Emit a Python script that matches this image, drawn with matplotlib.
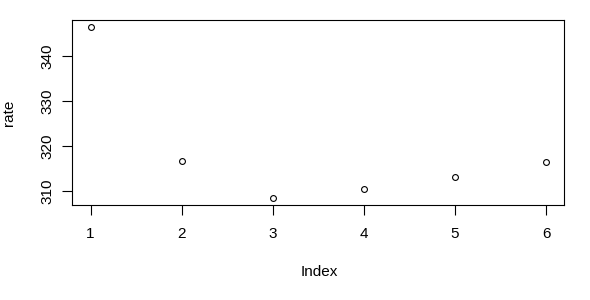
import matplotlib
matplotlib.use("Agg")
import matplotlib.pyplot as plt

index = [1, 2, 3, 4, 5, 6]
rate = [346.4, 316.7, 308.4, 310.4, 313.1, 316.4]
xticks = [1, 2, 3, 4, 5, 6]
yticks = [310, 320, 330, 340]

plt.rcParams['font.family'] = ['Liberation Sans', 'DejaVu Sans']

W, H = 590, 300
fig = plt.figure(figsize=(W / 100, H / 100), dpi=100)
ax = fig.add_axes([72.3 / W, 1 - 205.3 / H, (564.3 - 72.3) / W, (205.3 - 20.3) / H])

ax.plot(index, rate, linestyle='none', marker='o', markersize=4.2,
        markerfacecolor='none', markeredgecolor='black', markeredgewidth=0.8)

ymin, ymax = min(rate), max(rate)
pad = (ymax - ymin) * 0.04
ax.set_ylim(ymin - pad, ymax + pad)
ax.set_xlim(0.8, 6.2)
ax.set_xticks(xticks)
ax.set_xticklabels([str(t) for t in xticks])
ax.set_yticks(yticks)
ax.set_yticklabels([str(t) for t in yticks], rotation=90, va='center')

for s in ax.spines.values():
    s.set_linewidth(0.8)
ax.tick_params(axis='both', length=7.2, width=0.8, labelsize=11, color='black')
ax.tick_params(axis='x', pad=8.5)
ax.tick_params(axis='y', pad=6)

fig.text(319 / W, 1 - 272 / H, 'Index', ha='center', va='center', fontsize=11)
fig.text(8.5 / W, 1 - 113 / H, 'rate', ha='center', va='center', rotation=90, fontsize=11)

fig.savefig('out.png', dpi=100)
